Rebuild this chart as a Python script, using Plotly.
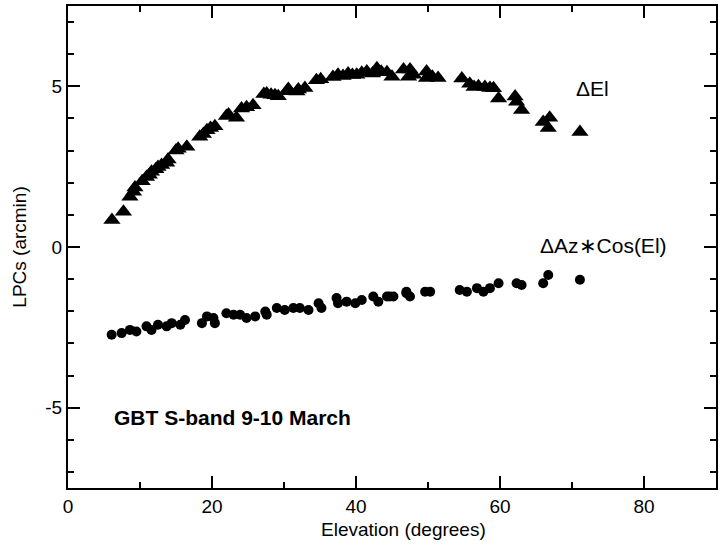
import plotly.graph_objects as go

# Delta El (triangles)
el_tri = [6.1, 7.7, 8.6, 9.1, 9.3, 10.3, 10.9, 11.3, 11.6, 12.2, 12.5, 13.0, 13.7, 13.9,
          15.0, 15.3, 16.5, 18.3, 18.8, 19.3, 19.8, 20.4, 22.0, 22.3, 23.4, 24.1, 24.8,
          25.7, 27.2, 27.6, 28.2, 28.75, 29.2, 30.4, 30.6, 31.8, 32.0, 32.9, 34.5, 35.1,
          36.8, 37.5, 38.2, 38.9, 39.5, 40.1, 40.8, 41.5, 42.3, 42.9, 43.5, 44.3, 45.0,
          46.6, 47.5, 47.3, 48.0, 49.8, 49.8, 50.6, 51.4, 54.7, 55.8, 56.4, 57.0, 57.9,
          58.6, 59.1, 59.8, 62.1, 62.3, 63.0, 66.0, 66.9, 66.7, 71.1]
d_el = [0.84, 1.10, 1.56, 1.72, 1.85, 2.05, 2.18, 2.25, 2.34, 2.42, 2.49, 2.55, 2.62, 2.72,
        3.00, 3.06, 3.12, 3.43, 3.52, 3.63, 3.70, 3.76, 4.08, 4.12, 4.02, 4.31, 4.35,
        4.41, 4.76, 4.78, 4.74, 4.72, 4.69, 4.85, 4.92, 4.84, 4.90, 4.95, 5.19, 5.22,
        5.29, 5.36, 5.32, 5.40, 5.35, 5.36, 5.42, 5.46, 5.40, 5.56, 5.45, 5.44, 5.30,
        5.52, 5.52, 5.30, 5.36, 5.46, 5.26, 5.30, 5.26, 5.24, 5.08, 4.98, 5.00, 4.98,
        4.95, 4.94, 4.62, 4.68, 4.52, 4.26, 3.89, 4.02, 3.70, 3.58]

# Delta Az * cos(El) (circles)
el_circ = [6.06, 7.45, 8.6, 9.5, 10.9, 11.6, 12.5, 13.7, 14.4, 15.6, 16.25, 18.6, 19.3,
           20.2, 20.4, 22.0, 23.0, 23.9, 24.8, 26.0, 27.4, 27.6, 29.0, 30.1, 31.3, 32.2,
           33.4, 34.8, 35.2, 37.3, 37.5, 38.7, 39.9, 40.8, 42.4, 43.1, 44.3, 44.7, 45.2,
           47.0, 47.0, 47.5, 49.6, 50.3, 54.4, 55.4, 56.8, 57.7, 58.6, 59.8, 62.3, 63.0,
           66.0, 66.7, 71.1]
d_az = [-2.73, -2.68, -2.58, -2.63, -2.47, -2.58, -2.42, -2.47, -2.37, -2.42, -2.27, -2.37,
        -2.16, -2.21, -2.37, -2.06, -2.11, -2.11, -2.21, -2.16, -2.01, -2.11, -1.90, -1.96,
        -1.90, -1.90, -1.96, -1.75, -1.90, -1.59, -1.75, -1.70, -1.75, -1.65, -1.54, -1.70,
        -1.54, -1.54, -1.54, -1.44, -1.39, -1.54, -1.39, -1.39, -1.34, -1.39, -1.28, -1.39,
        -1.28, -1.13, -1.13, -1.18, -1.13, -0.87, -1.02]

x_ticks = [0, 20, 40, 60, 80]
x_tick_labels = ["0", "20", "40", "60", "80"]
y_ticks = [-5, 0, 5]
y_tick_labels = ["-5", "0", "5"]

FONT = "Liberation Sans, Arial, sans-serif"

fig = go.Figure()
fig.add_trace(go.Scatter(x=el_tri, y=d_el, mode="markers",
                         marker=dict(symbol="triangle-up", size=15, color="black"),
                         showlegend=False))
fig.add_trace(go.Scatter(x=el_circ, y=d_az, mode="markers",
                         marker=dict(symbol="circle", size=10, color="black"),
                         showlegend=False))

fig.add_annotation(x=72.8, y=4.94, text="ΔEl", showarrow=False,
                   font=dict(family=FONT, size=21, color="black"))
fig.add_annotation(x=74.4, y=0.06, text="ΔAz∗Cos(El)", showarrow=False,
                   font=dict(family=FONT, size=21, color="black"))
fig.add_annotation(x=22.9, y=-5.31, text="<b>GBT S-band 9-10 March</b>", showarrow=False,
                   font=dict(family=FONT, size=21, color="black"))
# x axis title (slightly right of centre, as in the original)
fig.add_annotation(xref="paper", yref="paper", x=0.517, y=-0.087,
                   xanchor="center", yanchor="middle", showarrow=False,
                   text="Elevation (degrees)",
                   font=dict(family=FONT, size=19, color="black"))

axis_common = dict(showline=True, linecolor="black", linewidth=2, mirror="allticks",
                   ticks="inside", tickcolor="black", tickwidth=2, ticklen=12,
                   showgrid=False, zeroline=False, automargin=False,
                   tickfont=dict(family=FONT, size=19, color="black"))

fig.update_xaxes(range=[0, 90], tickvals=x_ticks, ticktext=x_tick_labels,
                 minor=dict(dtick=10, tick0=0, ticks="inside", ticklen=6, tickwidth=2,
                            tickcolor="black"),
                 **axis_common)
fig.update_yaxes(range=[-7.5, 7.5], tickvals=y_ticks, ticktext=y_tick_labels,
                 minor=dict(dtick=1, tick0=0, ticks="inside", ticklen=6, tickwidth=2,
                            tickcolor="black"),
                 title=dict(text="LPCs (arcmin)", font=dict(family=FONT, size=19, color="black"),
                            standoff=14),
                 **axis_common)

fig.update_layout(width=722, height=546,
                  margin=dict(l=68, r=6, t=6, b=58),
                  plot_bgcolor="white", paper_bgcolor="white")

fig.write_html("out.html", post_script="document.body.style.margin='0';",
               config={"displayModeBar": False})
